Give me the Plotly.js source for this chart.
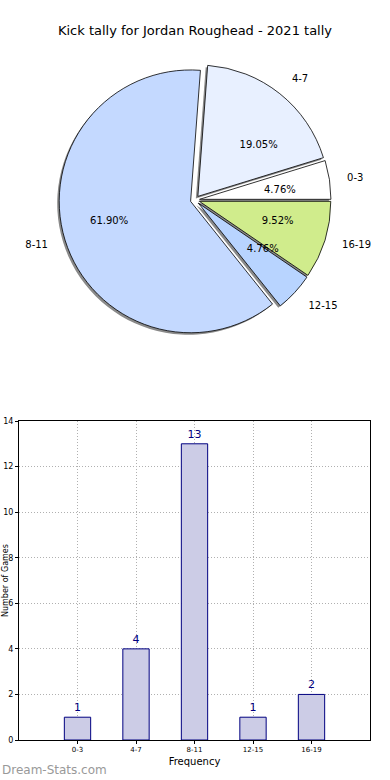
<!DOCTYPE html>
<html>
<head>
<meta charset="utf-8">
<script src="https://cdn.plot.ly/plotly-3.0.1.min.js"></script>
<style>html,body{margin:0;padding:0;background:#fff;}#chart{width:390px;height:780px;}</style>
</head>
<body>
<div id="chart"></div>
<script>
// Data
const pieLabels = ["0-3", "4-7", "8-11", "12-15", "16-19"];
const pieValues = [1, 4, 13, 1, 2];
const pieColors = ["#ffffff", "#e8f0ff", "#c4d9ff", "#b8d4ff", "#d0ec8c"];
const barCategories = ["0-3", "4-7", "8-11", "12-15", "16-19"];
const barValues = [1, 4, 13, 1, 2];
const titleText = "Kick tally for Jordan Roughead - 2021 tally";
const xTitle = "Frequency";
const yTitle = "Number of Games";
const watermark = "Dream-Stats.com";

const W = 390, H = 780;
const px = v => v / W;
const py = v => 1 - v / H;
const pull = pieValues.map(() => 0.035);
const font = "DejaVu Sans, sans-serif";
const total = pieValues.reduce((a, b) => a + b, 0);
// first slice starts at 3 o'clock, going counterclockwise
const rot = 90 - 360 * pieValues[0] / total;

const cx = 195, cy = 200, half = 136;
const dom = (ox, oy, h) => ({x: [px(cx - h + ox), px(cx + h + ox)], y: [py(cy + h + oy), py(cy - h + oy)]});

const common = {
  type: "pie", labels: pieLabels, values: pieValues, sort: false,
  direction: "counterclockwise", rotation: rot, pull: pull,
  hoverinfo: "skip", showlegend: false
};
const clear = pieValues.map(() => "rgba(0,0,0,0)");

const traces = [
  Object.assign({}, common, {
    domain: dom(-2, 2, half),
    marker: {colors: pieValues.map(() => "#8a8a8a"), line: {width: 0}},
    textinfo: "none"
  }),
  Object.assign({}, common, {
    domain: dom(0, 0, half),
    marker: {colors: pieColors, line: {color: "#000", width: 0.8}},
    textinfo: "none"
  }),
  Object.assign({}, common, {
    domain: dom(0, 0, 151),
    marker: {colors: clear, line: {width: 0}},
    textinfo: "label", textposition: "outside",
    outsidetextfont: {family: font, size: 10, color: "#000"}
  }),
  Object.assign({}, common, {
    domain: dom(0, 0, 67),
    marker: {colors: clear, line: {width: 0}},
    texttemplate: "%{percent:.2%}", textposition: "outside",
    outsidetextfont: {family: font, size: 10, color: "#000"}
  }),
  {
    type: "bar", x: barCategories, y: barValues, width: 0.45,
    marker: {color: "#ccccE6", line: {color: "#000080", width: 1}},
    text: barValues.map(String), textposition: "outside", cliponaxis: false,
    textfont: {family: font, size: 11, color: "#000080"},
    hoverinfo: "skip", showlegend: false, xaxis: "x", yaxis: "y"
  }
];

const layout = {
  width: W, height: H,
  margin: {l: 0, r: 0, t: 0, b: 0},
  paper_bgcolor: "#fff", plot_bgcolor: "#fff",
  font: {family: font, color: "#000"},
  title: {text: titleText, x: 0.5, xanchor: "center", y: py(30), yanchor: "middle", yref: "paper",
          font: {family: font, size: 13, color: "#000"}},
  xaxis: {
    domain: [px(19), px(370)], anchor: "y",
    type: "category", range: [-1, 5],
    showgrid: true, gridcolor: "#b0b0b0", griddash: "1px,2px", gridwidth: 1,
    showline: true, linecolor: "#000", linewidth: 1, mirror: true,
    ticks: "outside", ticklen: 3, tickcolor: "#000",
    tickfont: {family: font, size: 7, color: "#000"},
    title: {text: xTitle, font: {family: font, size: 10, color: "#000"}, standoff: 4},
    zeroline: false, fixedrange: true
  },
  yaxis: {
    domain: [py(740), py(421)], anchor: "x",
    range: [0, 14], dtick: 2,
    showgrid: true, gridcolor: "#b0b0b0", griddash: "1px,2px", gridwidth: 1,
    showline: true, linecolor: "#000", linewidth: 1, mirror: true,
    ticks: "outside", ticklen: 3, tickcolor: "#000",
    tickfont: {family: font, size: 8, color: "#000"},
    zeroline: false, fixedrange: true
  },
  annotations: [
    {
      text: yTitle, xref: "paper", yref: "paper", x: px(5), y: py(581),
      xanchor: "center", yanchor: "middle", textangle: -90, showarrow: false,
      font: {family: font, size: 8, color: "#000"}
    },
    {
      text: watermark, xref: "paper", yref: "paper", x: 0, y: py(770),
      xanchor: "left", yanchor: "middle", showarrow: false,
      font: {family: font, size: 12, color: "#999999"}
    }
  ]
};

Plotly.newPlot("chart", traces, layout, {staticPlot: true, displayModeBar: false});
</script>
</body>
</html>
